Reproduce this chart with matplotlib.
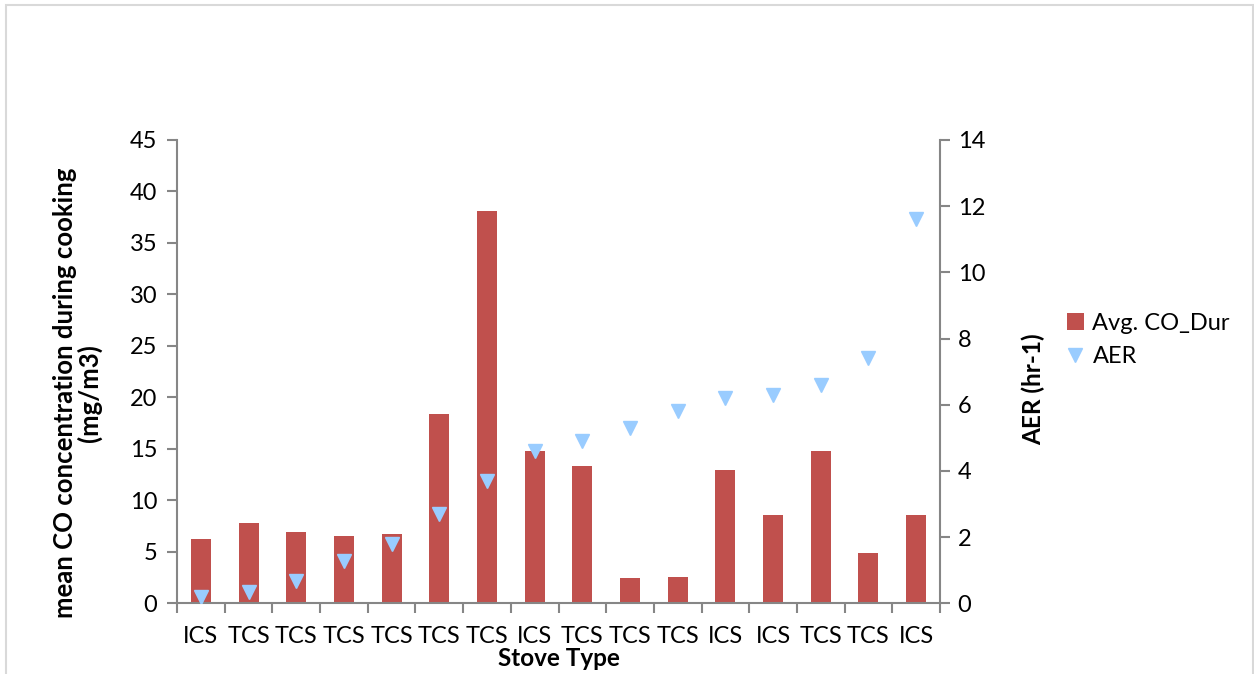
import matplotlib
matplotlib.use("Agg")
import matplotlib.pyplot as plt
from matplotlib.patches import Rectangle
import numpy as np

plt.rcParams['font.family'] = ['Lato', 'DejaVu Sans']

# Stove type for each household, in plotted order
stove_types = ["ICS", "TCS", "TCS", "TCS", "TCS", "TCS", "TCS", "ICS",
               "TCS", "TCS", "TCS", "ICS", "ICS", "TCS", "TCS", "ICS"]

# Mean CO concentration during cooking (mg/m3)
avg_co_dur = [6.25, 7.8, 6.93, 6.54, 6.73, 18.39, 38.13, 14.79,
              13.34, 2.45, 2.55, 12.95, 8.58, 14.8, 4.89, 8.58]

# Air exchange rate (hr-1)
aer = [0.2, 0.34, 0.68, 1.29, 1.79, 2.70, 3.71, 4.61,
       4.90, 5.30, 5.80, 6.20, 6.30, 6.61, 7.41, 11.61]

bar_color = "#C0504D"
marker_color = "#99CCFF"
axis_color = "#868686"

W, H = 1254, 674
fig = plt.figure(figsize=(W / 100, H / 100), dpi=100)
fig.patches.append(Rectangle((6 / W, -0.01), 1247 / W, 1.01 - 5 / H,
                             transform=fig.transFigure, fill=False,
                             edgecolor="#D9D9D9", linewidth=1.5))

ax_left, ax_right, ax_top, ax_bottom = 177, 940, 140, 603.3
ax = fig.add_axes([ax_left / W, 1 - ax_bottom / H,
                   (ax_right - ax_left) / W, (ax_bottom - ax_top) / H])
ax2 = ax.twinx()
ax_w = ax_right - ax_left
ax_h = ax_bottom - ax_top

x = np.arange(len(stove_types))
bars = ax.bar(x, avg_co_dur, width=0.42, color=bar_color, label="Avg. CO_Dur", zorder=2)
pts, = ax2.plot(x, aer, linestyle="none", marker="v", markersize=10.5,
                color=marker_color, label="AER", zorder=3)

ax.set_xlim(-0.5, len(stove_types) - 0.5)
ax.set_ylim(0, 45)
ax.set_yticks(np.arange(0, 46, 5))
ax2.set_ylim(0, 14)
ax2.set_yticks(np.arange(0, 15, 2))

# Category labels centred under bars, tick marks between categories
ax.set_xticks(x)
ax.set_xticklabels(stove_types)
ax.set_xticks(np.arange(-0.5, len(stove_types), 1), minor=True)
ax.tick_params(axis="x", which="major", length=0, pad=16.5, labelsize=17)
ax.tick_params(axis="x", which="minor", length=7.2, width=1.5, color=axis_color)
ax.tick_params(axis="y", length=7.2, width=1.5, color=axis_color, labelsize=17, pad=7)
ax2.tick_params(axis="y", length=7.2, width=1.5, color=axis_color, labelsize=17, pad=5.5)

for a in (ax, ax2):
    a.spines["top"].set_visible(False)
    for side in ("left", "right", "bottom"):
        a.spines[side].set_color(axis_color)
        a.spines[side].set_linewidth(1.5)
ax.spines["right"].set_visible(False)
ax2.spines["left"].set_visible(False)
ax2.spines["bottom"].set_visible(False)

ax.set_zorder(ax2.get_zorder() - 1)
ax2.patch.set_visible(False)

ax.set_xlabel("Stove Type", fontsize=17.5, fontweight="bold")
ax.xaxis.set_label_coords(0.5, -(647 - ax_bottom) / ax_h)
ax.set_ylabel("mean CO concentration during cooking\n(mg/m3)", fontsize=18.5,
              fontweight="bold", linespacing=1.0)
ax.yaxis.set_label_coords(-(ax_left - 102) / ax_w, (ax_bottom - 393) / ax_h)
ax2.set_ylabel("AER (hr-1)", fontsize=17.5, fontweight="bold")
ax2.yaxis.set_label_coords((1022 - ax_left) / ax_w, (ax_bottom - 389) / ax_h)

fig.legend([bars, pts], ["Avg. CO_Dur", "AER"], loc="upper left",
           bbox_to_anchor=(1067 / W, 1 - 313 / H), frameon=False,
           fontsize=17, handlelength=0.7, handleheight=0.7, handletextpad=0.38,
           labelspacing=0.5, borderaxespad=0, borderpad=0)

fig.savefig("out.png", dpi=100)
